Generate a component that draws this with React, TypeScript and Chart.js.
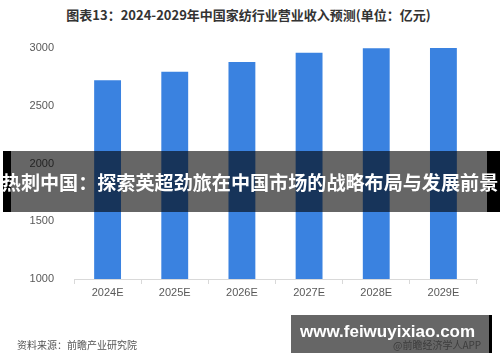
import React, { useEffect, useRef } from "react";
import { Chart, registerables } from "chart.js";
Chart.register(...registerables);

const categories = ["2024E", "2025E", "2026E", "2027E", "2028E", "2029E"];
const revenue = [2720, 2795, 2878, 2958, 2998, 3000];
const yTicks = [1000, 1500, 2000, 2500, 3000];
const titleText = "图表13：2024-2029年中国家纺行业营业收入预测(单位：亿元)";
const sourceText = "资料来源：前瞻产业研究院";
const bannerText = "热刺中国：探索英超劲旅在中国市场的战略布局与发展前景";
const siteText = "www.feiwuyixiao.com";
const appText = "@前瞻经济学人APP";

const CJK = '"Noto Sans CJK SC", "Noto Sans", sans-serif';

export default function App() {
  const ref = useRef<HTMLCanvasElement | null>(null);
  useEffect(() => {
    if (!ref.current) return;
    const chart = new Chart(ref.current, {
      type: "bar",
      data: {
        labels: categories,
        datasets: [
          {
            data: revenue,
            backgroundColor: "#3a82e0",
            borderWidth: 0,
            barPercentage: 0.4,
            categoryPercentage: 1,
          },
        ],
      },
      options: {
        responsive: false,
        animation: false,
        layout: { padding: { left: 0, top: 48, right: 23, bottom: 53 } },
        plugins: { legend: { display: false }, tooltip: { enabled: false }, title: { display: false } },
        scales: {
          x: {
            grid: {
              display: true,
              drawOnChartArea: false,
              drawTicks: true,
              tickLength: 5,
              color: "#d9d9d9",
              offset: true,
            },
            border: { display: true, color: "#d9d9d9" },
            ticks: {
              color: "#595959",
              font: { family: '"Liberation Sans", Arial, sans-serif', size: 11 },
              padding: 2,
            },
            afterFit: (s: any) => {
              s.height = 30;
            },
          },
          y: {
            min: 1000,
            max: 3000,
            grid: { display: false },
            border: { display: false },
            ticks: {
              color: "#595959",
              font: { family: '"Liberation Sans", Arial, sans-serif', size: 11 },
              padding: 12,
              callback: (v: any) => String(v),
            },
            afterBuildTicks: (s: any) => {
              s.ticks = yTicks.map((v) => ({ value: v }));
            },
            afterFit: (s: any) => {
              s.width = 74;
            },
          },
        },
      },
    });
    return () => chart.destroy();
  }, []);

  return (
    <div style={{ position: "absolute", left: 0, top: 0, width: 500, height: 362, background: "#fff", overflow: "hidden" }}>
      <div
        style={{
          position: "absolute",
          left: 0,
          top: 5,
          width: 497,
          textAlign: "center",
          fontFamily: CJK,
          fontWeight: 700,
          fontSize: 13,
          lineHeight: "20px",
          color: "#333",
        }}
      >
        {titleText}
      </div>
      <canvas ref={ref} width={500} height={362} style={{ position: "absolute", left: 0, top: 0 }} />
      <div
        style={{
          position: "absolute",
          left: 17,
          top: 338,
          fontFamily: CJK,
          fontSize: 10,
          lineHeight: "14px",
          color: "#555",
        }}
      >
        {sourceText}
      </div>
      <div
        style={{
          position: "absolute",
          left: 393,
          top: 338,
          fontFamily: CJK,
          fontSize: 10,
          lineHeight: "14px",
          color: "#999",
          whiteSpace: "nowrap",
        }}
      >
        {appText}
      </div>
      {/* banner overlay */}
      <div style={{ position: "absolute", left: 3, top: 151, width: 8, height: 61, background: "#000" }} />
      <div style={{ position: "absolute", left: 11, top: 151, width: 476, height: 61, background: "rgba(0,0,0,0.6)" }} />
      <div style={{ position: "absolute", left: 487, top: 151, width: 13, height: 61, background: "#000" }} />
      <div
        style={{
          position: "absolute",
          left: 0,
          top: 169,
          width: 500,
          textAlign: "center",
          fontFamily: CJK,
          fontWeight: 700,
          fontSize: 19.1,
          lineHeight: "26px",
          color: "#fff",
          whiteSpace: "nowrap",
        }}
      >
        {bannerText}
      </div>
      {/* site box */}
      <div style={{ position: "absolute", left: 291, top: 315, width: 198, height: 38, background: "rgba(0,0,0,0.6)" }} />
      <div style={{ position: "absolute", left: 489, top: 315, width: 3, height: 38, background: "#000" }} />
      <div
        style={{
          position: "absolute",
          left: 300,
          top: 320,
          fontFamily: '"Liberation Sans", Arial, sans-serif',
          fontWeight: 700,
          fontSize: 17,
          lineHeight: "24px",
          color: "#fff",
          whiteSpace: "nowrap",
        }}
      >
        {siteText}
      </div>
    </div>
  );
}
